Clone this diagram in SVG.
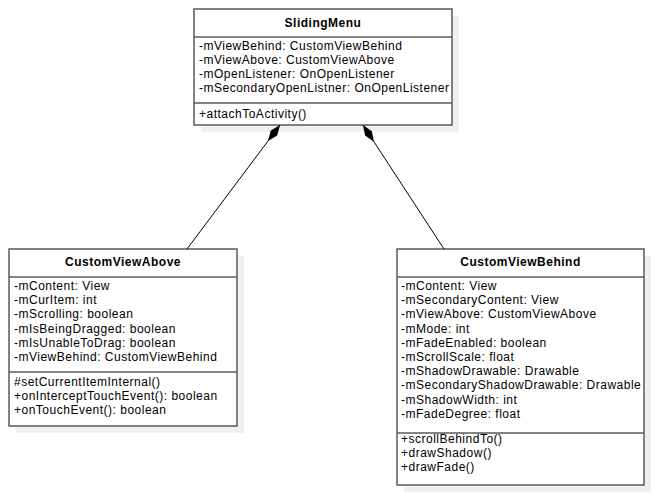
<svg xmlns="http://www.w3.org/2000/svg" width="654" height="495" viewBox="0 0 654 495">
<defs>
<style>
.shadow{fill:#f0f0f0;stroke:none}
.box{fill:#ffffff;stroke:#5a5a5a;stroke-width:1.5}
.sep{stroke:#5a5a5a;stroke-width:1.5}
text{font-family:"Liberation Sans",Arial,sans-serif;font-size:12px;letter-spacing:0.5px;fill:#000}
.title{font-weight:bold;text-anchor:middle}
.conn{stroke:#000;stroke-width:1;fill:none;marker-start:url(#diamond)}
</style>
<marker id="diamond" markerUnits="userSpaceOnUse" markerWidth="24" markerHeight="12" refX="0" refY="0" viewBox="-1 -6 24 12" orient="auto">
<path d="M0,0 L10,-4 L20,0 L10,4 Z" fill="#000"/>
</marker>
</defs>
<rect width="654" height="495" fill="#fff"/>
<g id="SlidingMenu">
<rect class="shadow" x="201" y="16" width="258" height="116"/>
<rect class="box" x="194" y="9" width="258" height="116"/>
<line class="sep" x1="194" y1="37" x2="452" y2="37"/>
<line class="sep" x1="194" y1="103" x2="452" y2="103"/>
<text class="title" x="323" y="27">SlidingMenu</text>
<text x="199" y="50">-mViewBehind: CustomViewBehind</text>
<text x="199" y="64">-mViewAbove: CustomViewAbove</text>
<text x="199" y="78">-mOpenListener: OnOpenListener</text>
<text x="199" y="92">-mSecondaryOpenListner: OnOpenListener</text>
<text x="199" y="118">+attachToActivity()</text>
</g>
<g id="CustomViewAbove">
<rect class="shadow" x="16" y="256" width="228" height="177"/>
<rect class="box" x="9" y="249" width="228" height="177"/>
<line class="sep" x1="9" y1="277" x2="237" y2="277"/>
<line class="sep" x1="9" y1="372" x2="237" y2="372"/>
<text class="title" x="123" y="266">CustomViewAbove</text>
<text x="14" y="290">-mContent: View</text>
<text x="14" y="304.2">-mCurItem: int</text>
<text x="14" y="318.4">-mScrolling: boolean</text>
<text x="14" y="332.6">-mIsBeingDragged: boolean</text>
<text x="14" y="346.8">-mIsUnableToDrag: boolean</text>
<text x="14" y="361">-mViewBehind: CustomViewBehind</text>
<text x="14" y="386">#setCurrentItemInternal()</text>
<text x="14" y="400">+onInterceptTouchEvent(): boolean</text>
<text x="14" y="414">+onTouchEvent(): boolean</text>
</g>
<g id="CustomViewBehind">
<rect class="shadow" x="404" y="256" width="247" height="236"/>
<rect class="box" x="397" y="249" width="247" height="236"/>
<line class="sep" x1="397" y1="277" x2="644" y2="277"/>
<line class="sep" x1="397" y1="433" x2="644" y2="433"/>
<text class="title" x="520.5" y="266">CustomViewBehind</text>
<text x="401" y="290">-mContent: View</text>
<text x="401" y="304.2">-mSecondaryContent: View</text>
<text x="401" y="318.4">-mViewAbove: CustomViewAbove</text>
<text x="401" y="332.6">-mMode: int</text>
<text x="401" y="346.8">-mFadeEnabled: boolean</text>
<text x="401" y="361">-mScrollScale: float</text>
<text x="401" y="375.2">-mShadowDrawable: Drawable</text>
<text x="401" y="389.4">-mSecondaryShadowDrawable: Drawable</text>
<text x="401" y="403.6">-mShadowWidth: int</text>
<text x="401" y="417.8">-mFadeDegree: float</text>
<text x="401" y="443">+scrollBehindTo()</text>
<text x="401" y="457">+drawShadow()</text>
<text x="401" y="471">+drawFade()</text>
</g>
<g id="connectors">
<line class="conn" x1="280" y1="125" x2="187" y2="249"/>
<line class="conn" x1="363" y1="125" x2="444" y2="249"/>
</g>
</svg>
